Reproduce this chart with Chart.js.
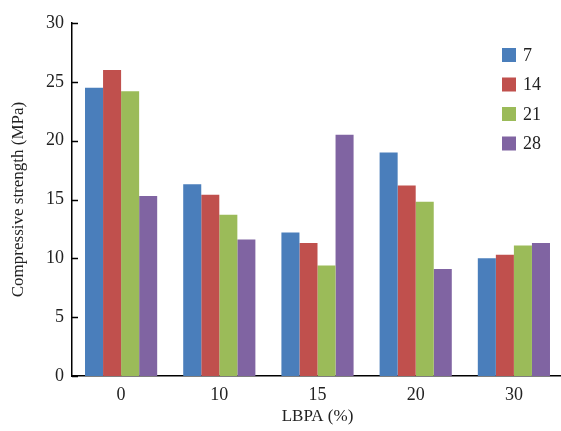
<!DOCTYPE html>
<html>
<head>
<meta charset="utf-8">
<script src="https://cdn.jsdelivr.net/npm/chart.js@4.4.0/dist/chart.umd.min.js"></script>
<style>
html,body{margin:0;padding:0;background:#fff;overflow:hidden;width:561px;height:431px;}
#wrap{position:absolute;left:0;top:0;width:572px;height:431px;}
.probe{font-family:'Liberation Serif';position:absolute;left:-999px;top:-999px;}
</style>
</head>
<body>
<span class="probe">0123456789 Compressive</span>
<div id="wrap"><canvas id="c" width="572" height="431"></canvas></div>
<script>
const categories = ['0', '10', '15', '20', '30'];
const seriesNames = ['7', '14', '21', '28'];
const s7  = [24.5, 16.3, 12.2, 19.0, 10.0];
const s14 = [26.0, 15.4, 11.3, 16.2, 10.3];
const s21 = [24.2, 13.7, 9.4, 14.8, 11.1];
const s28 = [15.3, 11.6, 20.5, 9.1, 11.3];
const yTicks = [0, 5, 10, 15, 20, 25, 30];
const colors = ['#4a7ebb', '#c0504d', '#9bbb59', '#8064a2'];
const seriesValues = [s7, s14, s21, s28];

const FONT = "'Liberation Serif', 'Times New Roman', Times, serif";

const innerTicks = {
  id: 'innerTicks',
  afterDraw(chart) {
    const ctx = chart.ctx, y = chart.scales.y, ca = chart.chartArea;
    ctx.save();
    ctx.strokeStyle = '#000';
    ctx.lineWidth = 1.5;
    yTicks.forEach(v => {
      const py = Math.round(y.getPixelForValue(v)) + 0.5;
      ctx.beginPath();
      ctx.moveTo(ca.left, py);
      ctx.lineTo(ca.left + 6, py);
      ctx.stroke();
    });
    ctx.restore();
  }
};

const boxLegend = {
  id: 'boxLegend',
  afterDraw(chart) {
    const ctx = chart.ctx;
    ctx.save();
    ctx.font = '18px ' + FONT;
    ctx.textBaseline = 'middle';
    seriesNames.forEach((n, i) => {
      const yy = 55 + i * 29.5;
      ctx.fillStyle = colors[i];
      ctx.fillRect(502, yy - 7, 14, 14);
      ctx.fillStyle = '#222';
      ctx.fillText(n, 523, yy + 1);
    });
    ctx.restore();
  }
};

function draw() {
  new Chart(document.getElementById('c'), {
    type: 'bar',
    data: {
      labels: categories,
      datasets: seriesNames.map((n, i) => ({
        label: n,
        data: seriesValues[i],
        backgroundColor: colors[i],
        borderWidth: 0
      }))
    },
    options: {
      responsive: false,
      animation: false,
      layout: { padding: { top: 23, right: 9, left: 0, bottom: 0 } },
      datasets: { bar: { categoryPercentage: 0.735, barPercentage: 1.0 } },
      plugins: { legend: { display: false }, tooltip: { enabled: false } },
      scales: {
        x: {
          grid: { display: false, drawTicks: false },
          border: { color: '#000', width: 1.5 },
          ticks: { color: '#222', font: { family: FONT, size: 18 }, padding: 8 },
          title: { display: true, text: 'LBPA (%)', color: '#222', font: { family: FONT, size: 17 }, padding: { top: 0 } },
          afterFit(s) { s.height = 55; }
        },
        y: {
          min: 0, max: 30,
          afterBuildTicks(s) { s.ticks = yTicks.map(v => ({ value: v })); },
          grid: { display: false, drawTicks: false },
          border: { color: '#000', width: 1.5 },
          ticks: { color: '#222', font: { family: FONT, size: 18 }, padding: 8 },
          title: { display: true, text: 'Compressive strength (MPa)', color: '#222', font: { family: FONT, size: 17 }, padding: { top: 8, bottom: 0 } },
          afterFit(s) { s.width = 72; }
        }
      }
    },
    plugins: [innerTicks, boxLegend]
  });
}

if (document.fonts && document.fonts.load) {
  Promise.all([
    document.fonts.load("18px 'Liberation Serif'"),
    document.fonts.load("17px 'Liberation Serif'")
  ]).then(draw, draw);
} else {
  draw();
}
</script>
</body>
</html>
